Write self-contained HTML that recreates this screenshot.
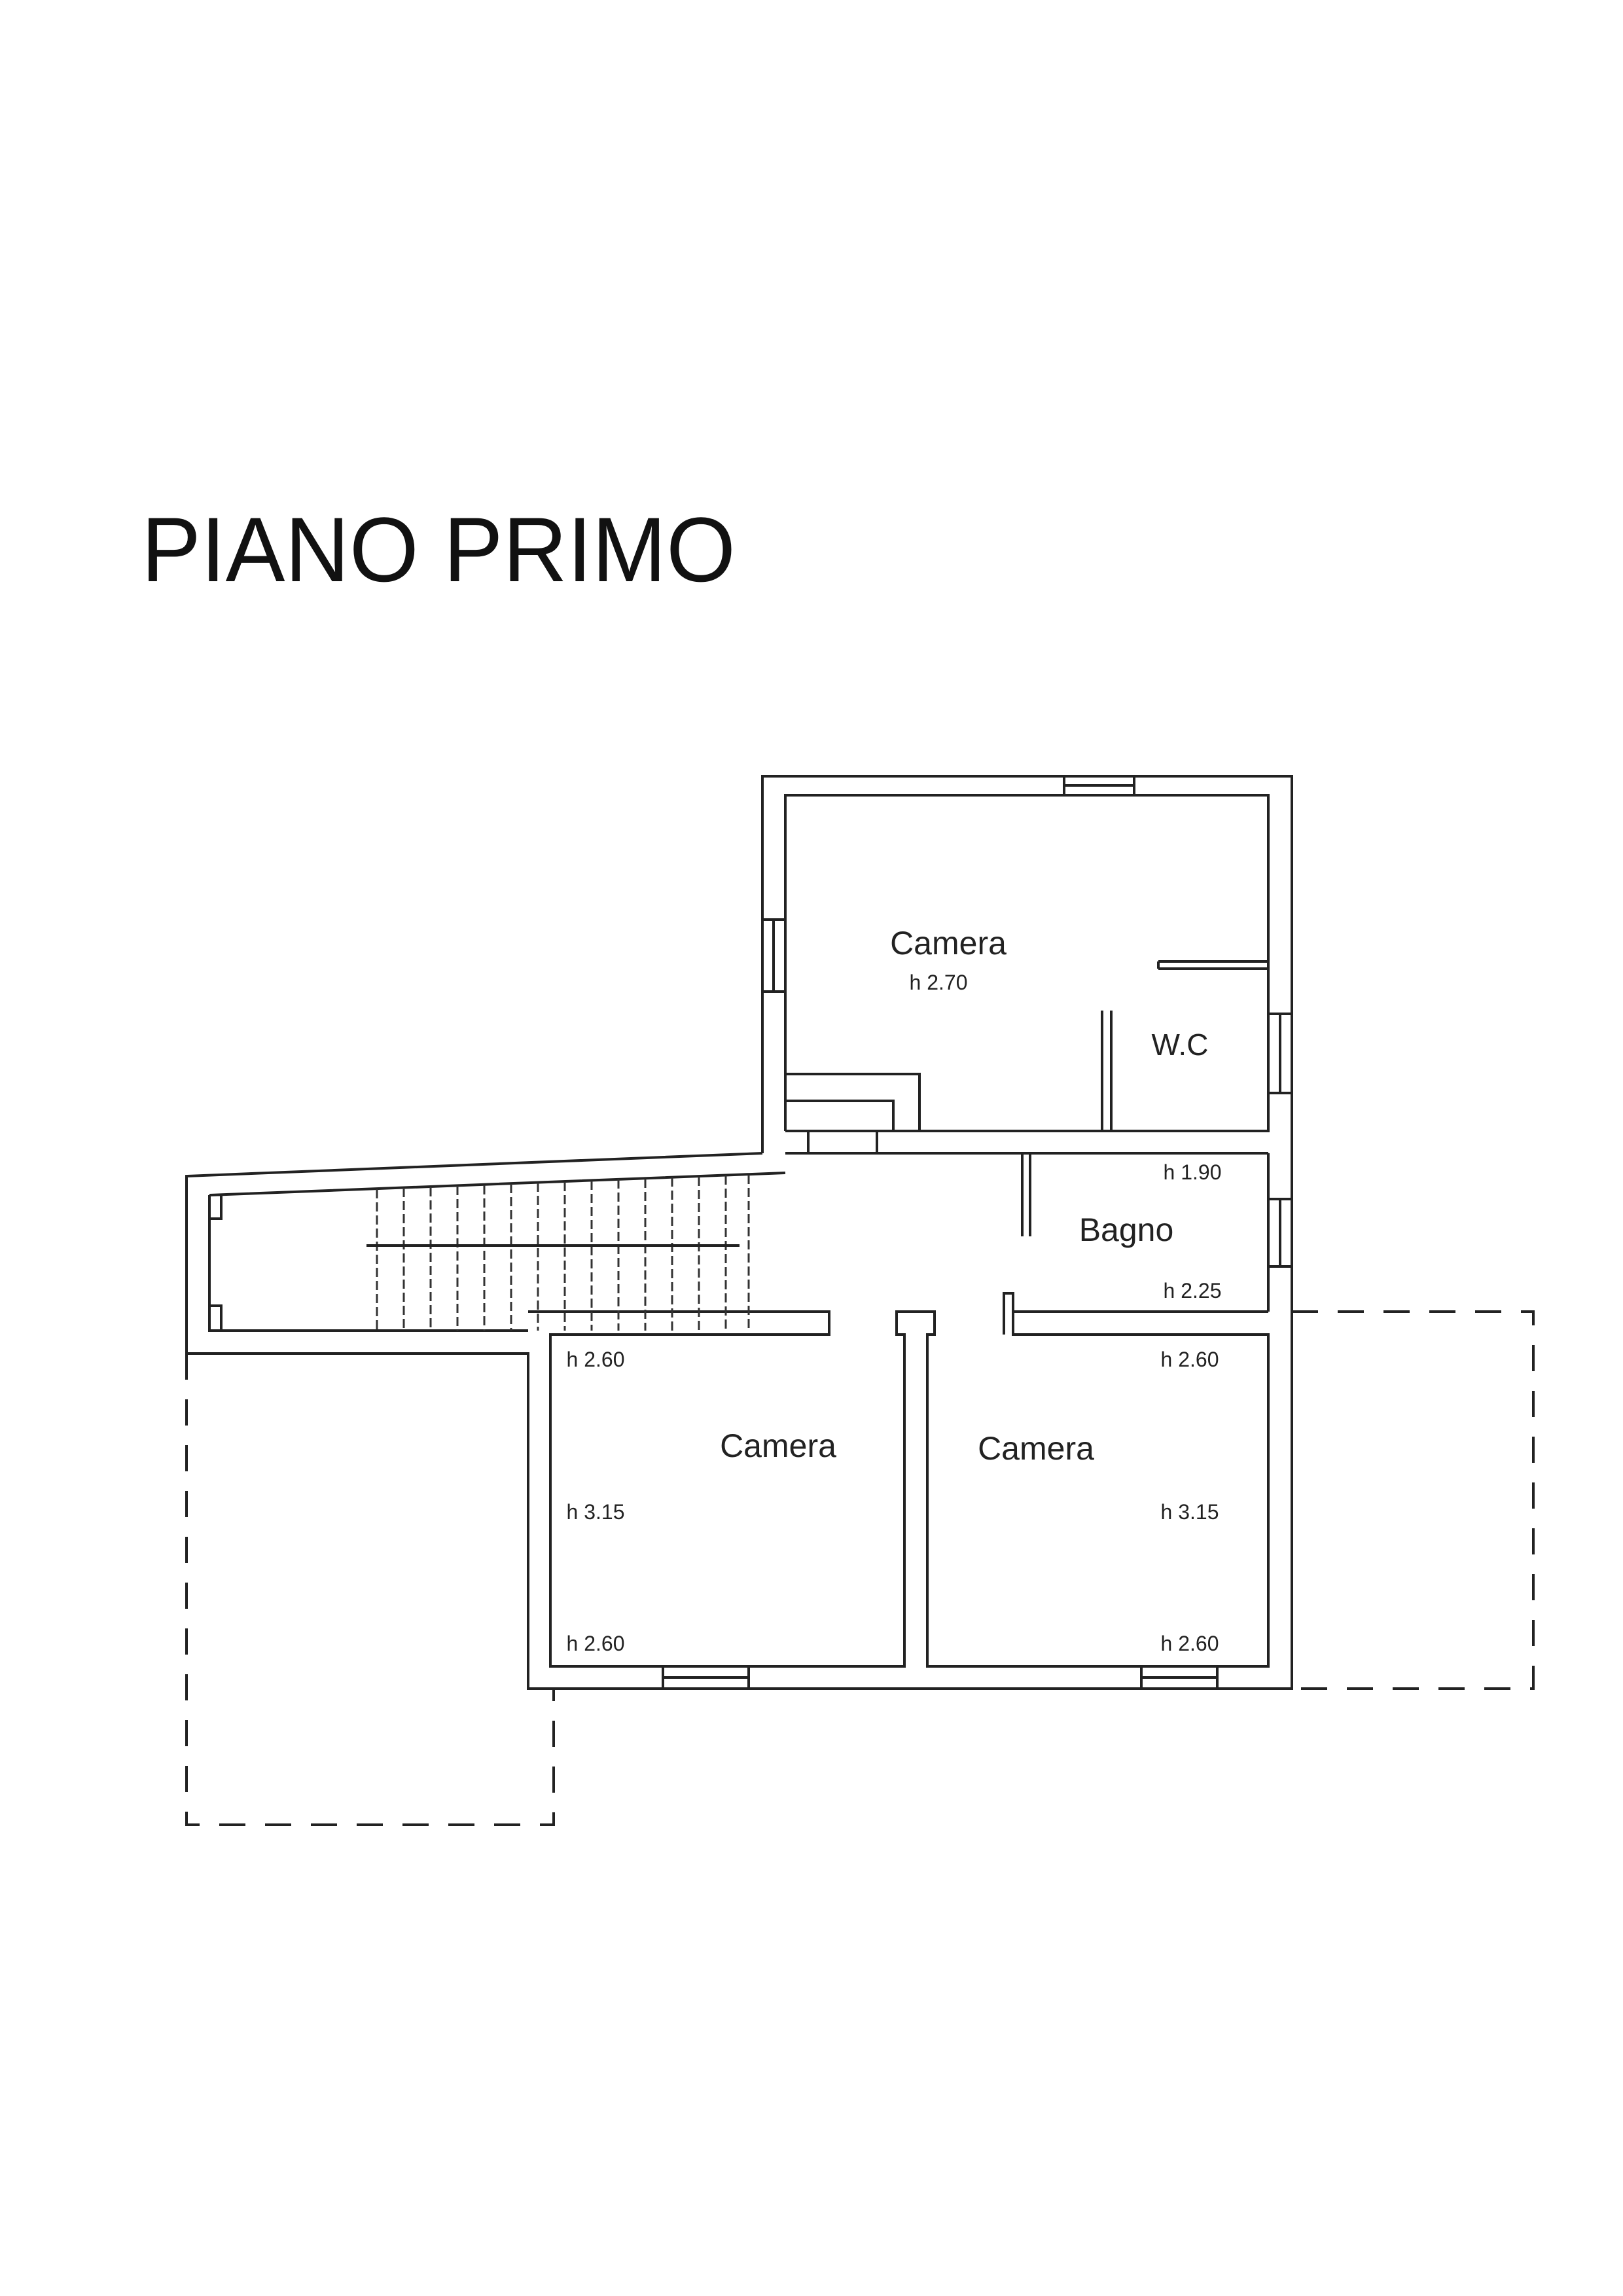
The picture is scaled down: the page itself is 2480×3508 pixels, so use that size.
<!DOCTYPE html>
<html><head><meta charset="utf-8"><style>html,body{margin:0;padding:0;background:#fff}svg{display:block}</style></head>
<body>
<svg width="2480" height="3508" viewBox="0 0 2480 3508" xmlns="http://www.w3.org/2000/svg" font-family="Liberation Sans, sans-serif">
<text x="216" y="888" font-size="140" textLength="908" lengthAdjust="spacingAndGlyphs" fill="#111">PIANO PRIMO</text>
<g fill="none" stroke="#222" stroke-width="4">
<path d="M1165,1762 L1165,1186 L1974,1186 L1974,2580 L807,2580 L807,2068 L285,2068 L285,1797 L1165,1762"/>
<path d="M1200,1728 L1200,1215 L1938,1215 L1938,1728 L1200,1728"/>
<path d="M1200,1762 L1938,1762"/>
<path d="M320,1826 L1200,1792 M320,1826 L320,2033 L807,2033 M320,1862 L338,1862 L338,1826 M320,1995 L338,1995 L338,2033"/>
<path d="M807,2004 L1267,2004 L1267,2039 L841,2039 L841,2546 L1382,2546 L1382,2039 L1370,2039 L1370,2004 L1428,2004 L1428,2039 L1417,2039 L1417,2546 L1938,2546 L1938,2039 L1548,2039 L1548,2004 L1938,2004"/>
<path d="M1534,2039 L1534,1976 L1548,1976 L1548,2004"/>
<path d="M1562,1762 L1562,1889 M1574,1762 L1574,1889 M1938,1762 L1938,2004"/>
<path d="M1684,1544 L1684,1728 M1698,1544 L1698,1728 M1770,1469 L1938,1469 M1770,1480 L1938,1480 M1770,1469 L1770,1480"/>
<path d="M1200,1641 L1405,1641 L1405,1728 M1200,1682 L1365,1682 L1365,1728 M1235,1728 L1235,1762 M1340,1728 L1340,1762"/>
<path d="M1626,1186 L1626,1215 M1733,1186 L1733,1215 M1626,1200 L1733,1200"/>
<path d="M1165,1405 L1200,1405 M1165,1515 L1200,1515 M1182,1405 L1182,1515"/>
<path d="M1938,1549 L1974,1549 M1938,1670 L1974,1670 M1956,1549 L1956,1670"/>
<path d="M1938,1832 L1974,1832 M1938,1935 L1974,1935 M1956,1832 L1956,1935"/>
<path d="M1013,2546 L1013,2580 M1144,2546 L1144,2580 M1013,2563 L1144,2563"/>
<path d="M1744,2546 L1744,2580 M1860,2546 L1860,2580 M1744,2563 L1860,2563"/>
</g>
<g stroke="#333" stroke-width="3" stroke-dasharray="14,6">
<path d="M576,1817 V2033 M617,1815 V2033 M658,1814 V2033 M699,1812 V2033 M740,1811 V2033 M781,1809 V2033 M822,1807 V2033 M863,1806 V2033 M904,1804 V2033 M945,1802 V2033 M986,1801 V2033 M1027,1799 V2033 M1068,1798 V2033 M1109,1796 V2033 M1144,1795 V2033"/>
</g>
<path d="M560,1903 L1130,1903" stroke="#222" stroke-width="4"/>
<g fill="none" stroke="#222" stroke-width="4" stroke-dasharray="40,30">
<path d="M285,2068 L285,2788 L846,2788 L846,2580"/>
<path d="M1974,2004 L2343,2004 L2343,2580 L1974,2580"/>
</g>
<g fill="#222">
<text x="1449" y="1458" font-size="50" text-anchor="middle">Camera</text>
<text x="1434" y="1512" font-size="32" text-anchor="middle">h 2.70</text>
<text x="1803" y="1612" font-size="46" text-anchor="middle">W.C</text>
<text x="1721" y="1896" font-size="50" text-anchor="middle">Bagno</text>
<text x="1822" y="1802" font-size="32" text-anchor="middle">h 1.90</text>
<text x="1822" y="1983" font-size="32" text-anchor="middle">h 2.25</text>
<text x="910" y="2088" font-size="32" text-anchor="middle">h 2.60</text>
<text x="1818" y="2088" font-size="32" text-anchor="middle">h 2.60</text>
<text x="1189" y="2226" font-size="50" text-anchor="middle">Camera</text>
<text x="1583" y="2230" font-size="50" text-anchor="middle">Camera</text>
<text x="910" y="2321" font-size="32" text-anchor="middle">h 3.15</text>
<text x="1818" y="2321" font-size="32" text-anchor="middle">h 3.15</text>
<text x="910" y="2522" font-size="32" text-anchor="middle">h 2.60</text>
<text x="1818" y="2522" font-size="32" text-anchor="middle">h 2.60</text>
</g>
</svg>
</body></html>
